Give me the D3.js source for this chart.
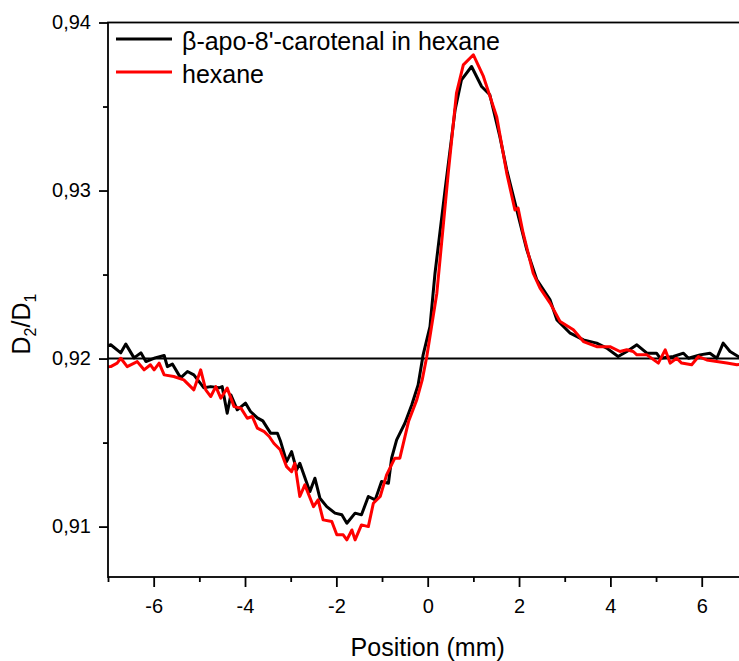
<!DOCTYPE html>
<html>
<head>
<meta charset="utf-8">
<script src="https://cdn.jsdelivr.net/npm/d3@7"></script>
<style>
  body { margin: 0; background: #fff; }
  text { font-family: "Liberation Sans", Arial, sans-serif; fill: #000; }
</style>
</head>
<body>
<script>
// data: position (mm) and D2/D1
var seriesNames = ["\u03b2-apo-8'-carotenal in hexane", "hexane"];

var posCarotenal = [-7.00,-6.94,-6.72,-6.61,-6.43,-6.28,-6.17,-5.97,-5.77,-5.70,-5.59,-5.41,-5.26,-5.12,-4.90,-4.75,-4.57,-4.50,-4.39,-4.31,-4.17,-3.99,-3.88,-3.73,-3.61,-3.51,-3.44,-3.29,-3.22,-3.09,-2.98,-2.87,-2.80,-2.58,-2.47,-2.36,-2.21,-2.03,-1.88,-1.77,-1.59,-1.45,-1.30,-1.15,-1.01,-0.86,-0.79,-0.68,-0.50,-0.35,-0.21,-0.10,0.05,0.16,0.38,0.60,0.74,0.96,1.18,1.36,1.58,1.73,1.95,2.17,2.39,2.68,2.83,3.12,3.41,3.70,3.92,4.17,4.36,4.58,4.80,5.01,5.09,5.38,5.60,5.71,5.96,6.18,6.33,6.47,6.62,6.80,7.00];
var valCarotenal = [0.92076,0.92082,0.92034,0.92086,0.92004,0.92034,0.91982,0.92004,0.92018,0.91952,0.91967,0.91885,0.91923,0.91903,0.91826,0.91833,0.91826,0.91833,0.91675,0.91784,0.91695,0.91735,0.91685,0.91647,0.91629,0.91586,0.91556,0.91556,0.91506,0.91387,0.91446,0.91337,0.91377,0.91208,0.91288,0.91169,0.91119,0.91080,0.91070,0.91020,0.91080,0.91070,0.91179,0.91159,0.91268,0.91258,0.91407,0.91516,0.91615,0.91724,0.91843,0.92022,0.92190,0.92508,0.93004,0.93480,0.93659,0.93738,0.93619,0.93570,0.93321,0.93123,0.92885,0.92647,0.92468,0.92349,0.92230,0.92151,0.92111,0.92092,0.92062,0.92012,0.92042,0.92082,0.92032,0.92032,0.92002,0.92012,0.92032,0.92002,0.92022,0.92032,0.92002,0.92092,0.92042,0.92012,0.92005];

var posHexane = [-7.00,-6.94,-6.80,-6.72,-6.58,-6.36,-6.21,-6.07,-5.99,-5.88,-5.77,-5.56,-5.34,-5.12,-4.97,-4.86,-4.75,-4.64,-4.53,-4.39,-4.24,-4.09,-3.95,-3.84,-3.73,-3.58,-3.47,-3.37,-3.23,-3.09,-2.98,-2.91,-2.80,-2.69,-2.50,-2.40,-2.29,-2.10,-1.99,-1.85,-1.77,-1.66,-1.59,-1.45,-1.30,-1.19,-1.04,-0.90,-0.72,-0.61,-0.42,-0.24,-0.12,-0.02,0.20,0.45,0.63,0.78,1.00,1.22,1.51,1.73,1.91,1.98,2.09,2.31,2.46,2.68,2.90,3.19,3.41,3.70,3.99,4.21,4.36,4.50,4.58,4.80,5.05,5.20,5.31,5.45,5.56,5.78,5.93,6.11,6.33,6.55,6.77,7.00];
var valHexane = [0.91951,0.91952,0.91973,0.92002,0.91952,0.91982,0.91933,0.91963,0.91933,0.91973,0.91903,0.91893,0.91873,0.91814,0.91933,0.91814,0.91774,0.91833,0.91764,0.91824,0.91714,0.91705,0.91645,0.91655,0.91586,0.91565,0.91536,0.91496,0.91457,0.91357,0.91327,0.91377,0.91179,0.91248,0.91119,0.91159,0.91040,0.91030,0.90951,0.90951,0.90921,0.90980,0.90921,0.91010,0.91000,0.91139,0.91179,0.91308,0.91407,0.91407,0.91625,0.91754,0.91873,0.92012,0.92389,0.93104,0.93580,0.93748,0.93808,0.93679,0.93440,0.93104,0.92885,0.92895,0.92746,0.92508,0.92419,0.92330,0.92220,0.92171,0.92101,0.92071,0.92071,0.92042,0.92052,0.92042,0.92022,0.92022,0.91973,0.92052,0.91973,0.92002,0.91973,0.91963,0.92012,0.91992,0.91982,0.91973,0.91963,0.91968];

var xTicks = [-6,-4,-2,0,2,4,6];
var xMinor = [-7,-5,-3,-1,1,3,5,7];
var yTicks = [0.91,0.92,0.93,0.94];
var yMinor = [0.915,0.925,0.935];
var baseLevel = 0.92;

var W = 739, H = 661;
var mLeft = 108, mRight = 747.4, mTop = 22.5, mBottom = 577;

var x = d3.scaleLinear().domain([-7,7]).range([mLeft,mRight]);
var y = d3.scaleLinear().domain([0.907,0.94]).range([mBottom,mTop]);

var svg = d3.select("body").append("svg").attr("width",W).attr("height",H);

svg.append("clipPath").attr("id","plot")
   .append("rect").attr("x",mLeft).attr("y",mTop).attr("width",mRight-mLeft).attr("height",mBottom-mTop);

// reference line at 0.92
svg.append("line")
   .attr("x1",x(-7)).attr("x2",x(7))
   .attr("y1",y(baseLevel)).attr("y2",y(baseLevel))
   .attr("stroke","#000").attr("stroke-width",2);

var line = d3.line()
   .x(function(d){ return x(d[0]); })
   .y(function(d){ return y(d[1]); });

var carotenal = d3.zip(posCarotenal,valCarotenal);
var hexane = d3.zip(posHexane,valHexane);

var g = svg.append("g").attr("clip-path","url(#plot)");
g.append("path").datum(carotenal)
   .attr("d",line).attr("fill","none").attr("stroke","#000")
   .attr("stroke-width",3).attr("stroke-linejoin","round");
g.append("path").datum(hexane)
   .attr("d",line).attr("fill","none").attr("stroke","#ff0000")
   .attr("stroke-width",3).attr("stroke-linejoin","round");

// frame
svg.append("rect")
   .attr("x",mLeft).attr("y",mTop).attr("width",mRight-mLeft).attr("height",mBottom-mTop)
   .attr("fill","none").attr("stroke","#000").attr("stroke-width",1.8);

// axes
var xAxis = d3.axisBottom(x).tickValues(xTicks).tickSize(10).tickPadding(12)
   .tickFormat(function(d){ return String(d); });
var gx = svg.append("g").attr("transform","translate(0,"+mBottom+")").call(xAxis);
gx.select(".domain").remove();
gx.selectAll("line").attr("stroke-width",1.8);
gx.selectAll("text").style("font-size","20px");

var gxm = svg.append("g").attr("transform","translate(0,"+mBottom+")")
   .call(d3.axisBottom(x).tickValues(xMinor).tickSize(5).tickFormat(""));
gxm.select(".domain").remove();
gxm.selectAll("line").attr("stroke-width",1.8);

var yAxis = d3.axisLeft(y).tickValues(yTicks).tickSize(9).tickPadding(8)
   .tickFormat(function(d){ return d3.format(".2f")(d).replace(".",","); });
var gy = svg.append("g").attr("transform","translate("+mLeft+",0)").call(yAxis);
gy.select(".domain").remove();
gy.selectAll("line").attr("stroke-width",1.8);
gy.selectAll("text").style("font-size","20px");

var gym = svg.append("g").attr("transform","translate("+mLeft+",0)")
   .call(d3.axisLeft(y).tickValues(yMinor).tickSize(5).tickFormat(""));
gym.select(".domain").remove();
gym.selectAll("line").attr("stroke-width",1.8);

// axis titles
svg.append("text")
   .attr("x",x(0)).attr("y",656)
   .attr("text-anchor","middle").style("font-size","25px")
   .text("Position (mm)");

var yt = svg.append("text")
   .attr("transform","translate(30,324) rotate(-90)")
   .attr("text-anchor","middle").style("font-size","25px");
yt.append("tspan").text("D");
yt.append("tspan").style("font-size","16px").attr("dy",6).text("2");
yt.append("tspan").attr("dy",-6).text("/D");
yt.append("tspan").style("font-size","16px").attr("dy",6).text("1");

// legend
var legendColors = ["#000","#ff0000"];
var legend = svg.selectAll("g.legend")
   .data(seriesNames)
   .enter().append("g")
     .attr("class","legend")
     .attr("transform",function(d,i){ return "translate(0,"+(39+i*33)+")"; });
legend.append("line")
   .attr("x1",116).attr("x2",172).attr("y1",0).attr("y2",0)
   .attr("stroke",function(d,i){ return legendColors[i]; })
   .attr("stroke-width",3);
legend.append("text")
   .attr("x",182).attr("y",11)
   .style("font-size","25px")
   .text(function(d){ return d; });
</script>
</body>
</html>
